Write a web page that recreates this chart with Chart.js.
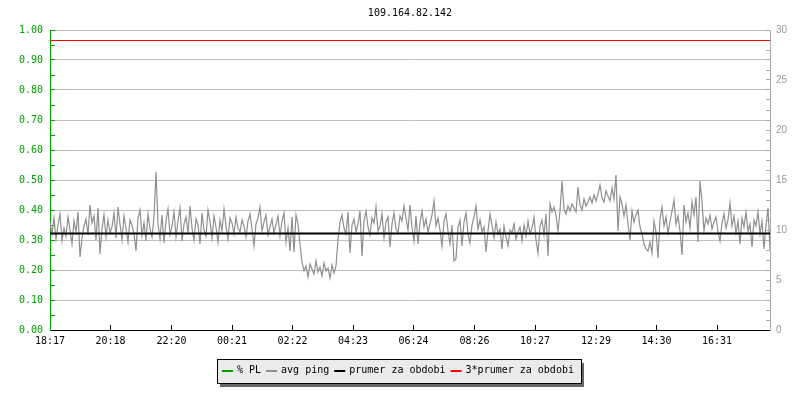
<!DOCTYPE html>
<html>
<head>
<meta charset="utf-8">
<script src="https://cdn.jsdelivr.net/npm/chart.js@4.4.1/dist/chart.umd.min.js"></script>
<style>
  body { margin: 0; background: #fff; }
  canvas { display: block; }
</style>
</head>
<body>
<canvas id="graf" width="800" height="400"></canvas>
<script>
const titulek = '109.164.82.142';
const nazvyRad = ['% PL', 'avg ping', 'prumer za obdobi', '3*prumer za obdobi'];
const casoveStitky = ['18:17', '20:18', '22:20', '00:21', '02:22', '04:23', '06:24', '08:26', '10:27', '12:29', '14:30', '16:31'];
const krokMinut = 4; // one sample every 4 minutes, 24 h in total
const prumer = 9.65; // ms

// avg ping (ms)
const pingHodnoty = [
  10.8, 9.6, 11.2, 9.1, 10.5, 11.6, 8.9, 10.2, 9.4, 11.3, 10.0, 8.6, 10.9, 9.8, 11.8, 7.3, 9.2, 10.4, 11.1, 9.5, 12.5, 10.7, 11.4, 9.0, 12.2, 7.6, 10.1, 11.5, 9.3, 11.0, 9.7,
  10.3, 11.7, 9.2, 12.3, 10.6, 9.0, 11.4, 10.2, 8.8, 11.0, 10.5, 9.6, 7.9, 11.2, 12.0, 9.4, 10.7, 8.9, 11.6, 10.1, 9.3, 11.3, 15.8, 10.6, 9.1, 11.5, 8.7, 10.9, 12.1, 9.5,
  10.4, 11.8, 9.3, 10.9, 12.2, 8.9, 10.6, 11.3, 9.7, 12.4, 10.2, 9.0, 11.1, 10.5, 8.6, 11.7, 10.0, 9.4, 12.0, 10.8, 9.2, 11.4, 10.3, 8.8, 11.0, 9.9, 12.1, 10.4, 9.1, 11.2,
  10.7, 9.6, 11.3, 10.2, 9.8, 11.0, 10.4, 9.3, 10.9, 11.6, 10.1, 8.4, 10.6, 11.2, 12.3, 9.9, 10.8, 11.5, 9.5, 10.3, 11.1, 9.7, 10.5, 11.4, 9.4, 10.9, 11.7, 8.8, 10.2, 7.9, 11.3, 7.8, 11.5, 10.6, 8.6,
  6.8, 5.9, 6.4, 5.3, 6.6, 6.1, 5.6, 6.9, 5.8, 6.3, 5.4, 6.7, 5.9, 6.2, 5.2, 6.5, 5.7, 6.4,
  9.0, 10.8, 11.5, 10.2, 9.6, 11.8, 7.7, 10.5, 11.1, 9.8, 10.6, 11.9, 7.4, 10.9, 11.9, 10.3, 9.5, 11.2, 10.7, 12.3, 9.9, 10.4, 11.6, 9.2, 10.8, 11.3, 8.3, 10.6, 11.7, 10.1, 9.7, 11.4, 10.9, 12.4, 11.2, 10.0, 12.5,
  10.2, 8.9, 11.4, 8.6, 10.7, 11.9, 10.3, 11.1, 9.8, 10.6, 11.5, 12.9, 10.4, 11.2, 10.0, 8.4, 10.9, 11.6, 9.9, 8.6, 10.5, 6.9, 7.1, 10.3, 11.0, 8.4, 10.8, 11.7, 9.6, 8.7, 10.5, 11.3, 12.4, 10.1, 11.0, 9.8,
  10.3, 7.8, 9.9, 11.6, 10.5, 9.2, 10.8, 9.6, 10.1, 8.1, 10.4, 9.3, 8.4, 10.0, 9.7, 10.6, 9.1, 9.8, 10.3, 8.9, 10.5, 9.4, 10.9, 9.6, 10.2, 11.3, 9.0, 7.7, 10.4, 11.0, 9.5, 11.6, 7.4,
  12.6, 11.8, 12.3, 11.5, 9.9, 11.9, 14.9, 12.1, 11.6, 12.4, 11.9, 12.6, 12.2, 11.8, 14.3, 12.5, 12.0, 13.1, 12.4, 12.8, 13.3, 12.7, 13.5, 12.9, 13.6, 14.5, 13.2, 12.8, 13.9, 13.4, 12.9, 14.2, 13.1, 15.5, 9.9, 13.3, 12.6,
  11.4, 12.5, 10.6, 9.0, 11.9, 10.8, 11.5, 12.0, 10.3, 9.6, 8.6, 8.1, 7.9, 8.8, 7.7, 10.9, 9.8, 7.2, 11.1, 12.3, 10.4, 11.3, 9.7, 10.8, 11.9, 13.0, 10.6, 11.4, 9.9, 7.5, 12.5, 10.8, 11.7, 10.2, 12.8, 11.5, 13.3, 8.8, 14.9,
  12.8, 9.9, 11.2, 10.6, 11.5, 10.1, 10.8, 11.3, 9.8, 8.9, 10.7, 11.6, 10.2, 11.0, 12.7, 10.4, 11.4, 9.7, 10.9, 8.6, 11.2, 10.3, 11.8, 9.9, 10.6, 8.3, 11.0, 10.4, 11.8, 9.6, 10.9, 8.1, 10.5, 12.2, 8.0
];
// packet loss (fraction), none in this period
const plHodnoty = pingHodnoty.map(() => 0);

const pismo = '"DejaVu Sans Mono", monospace';
const zelena = '#00a000';

function minutyOdZacatku(stitek) {
  const [h, m] = stitek.split(':').map(Number);
  const [h0, m0] = casoveStitky[0].split(':').map(Number);
  return ((h * 60 + m) - (h0 * 60 + m0) + 1440) % 1440;
}

const body = hodnoty => hodnoty.map((v, i) => ({ x: i * krokMinut, y: v }));
const hlavni = v => Math.round(v * 100) % 10 === 0;

// legend box with shadow, drawn under the plot like rrdtool does it
const legendaBox = {
  id: 'legendaBox',
  afterDraw(chart) {
    const ctx = chart.ctx;
    const sady = chart.data.datasets;
    ctx.save();
    ctx.font = '10px ' + pismo;
    const znacka = 11, mezeraZnacka = 4, mezeraPolozka = 5, padL = 5, padR = 7;
    const sirky = sady.map(d => ctx.measureText(d.label).width);
    let sirka = padL + padR;
    sirky.forEach((s, i) => { sirka += znacka + mezeraZnacka + s + (i < sady.length - 1 ? mezeraPolozka : 0); });
    sirka = Math.round(sirka);
    const vyska = 24;
    const left = Math.round(chart.width / 2 - sirka / 2) - 1;
    const top = chart.chartArea.bottom + 29;

    ctx.fillStyle = '#666';
    ctx.fillRect(left + 3, top + 4, sirka, vyska);
    ctx.fillStyle = '#ebebeb';
    ctx.fillRect(left, top, sirka, vyska);
    ctx.strokeStyle = '#000';
    ctx.lineWidth = 1;
    ctx.strokeRect(left + 0.5, top + 0.5, sirka, vyska);

    const cy = top + 12;
    let x = left + padL;
    ctx.textBaseline = 'middle';
    ctx.textAlign = 'left';
    sady.forEach((d, i) => {
      ctx.fillStyle = d.borderColor;
      ctx.fillRect(x, cy - 1, znacka, 2);
      x += znacka + mezeraZnacka;
      ctx.fillStyle = '#000';
      ctx.fillText(d.label, x, cy - 0.5);
      x += sirky[i] + mezeraPolozka;
    });
    ctx.restore();
  }
};

Chart.defaults.font.family = pismo;
Chart.defaults.font.size = 10;

new Chart(document.getElementById('graf').getContext('2d'), {
  type: 'line',
  data: {
    datasets: [
      {
        label: nazvyRad[0],
        data: body(plHodnoty),
        yAxisID: 'yPL',
        borderColor: zelena,
        borderWidth: 1,
        hidden: true
      },
      {
        label: nazvyRad[1],
        data: body(pingHodnoty),
        yAxisID: 'yPing',
        borderColor: '#8f8f8f',
        borderWidth: 1.2,
        order: 1
      },
      {
        label: nazvyRad[2],
        data: body(pingHodnoty.map(() => prumer)),
        yAxisID: 'yPing',
        borderColor: '#000000',
        borderWidth: 2
      },
      {
        label: nazvyRad[3],
        data: body(pingHodnoty.map(() => 3 * prumer)),
        yAxisID: 'yPing',
        borderColor: '#ff0000',
        borderWidth: 1
      }
    ]
  },
  options: {
    responsive: false,
    animation: false,
    devicePixelRatio: 1,
    events: [],
    elements: {
      point: { radius: 0 },
      line: { tension: 0 }
    },
    layout: { padding: 0 },
    plugins: {
      legend: { display: false },
      tooltip: { enabled: false },
      title: {
        display: true,
        text: titulek,
        fullSize: false,
        color: '#000',
        font: { family: pismo, size: 10, weight: 'normal' },
        padding: { top: 7, bottom: 11 }
      }
    },
    scales: {
      x: {
        type: 'linear',
        min: 0,
        max: 1440,
        afterBuildTicks: s => { s.ticks = casoveStitky.map(t => ({ value: minutyOdZacatku(t) })); },
        afterFit: s => { s.height = 70; },
        ticks: {
          autoSkip: false,
          maxRotation: 0,
          padding: 10,
          color: '#000',
          callback: (v, i) => casoveStitky[i]
        },
        grid: {
          drawOnChartArea: false,
          drawTicks: true,
          tickLength: -5,
          tickColor: ctx => ctx.index === 0 ? 'rgba(0,0,0,0)' : '#000'
        },
        border: { color: '#000', width: 1 }
      },
      yPL: {
        position: 'left',
        min: 0,
        max: 1,
        afterFit: s => { s.width = 50; },
        ticks: {
          stepSize: 0.05,
          autoSkip: false,
          padding: 12,
          color: zelena,
          callback: v => hlavni(v) ? v.toFixed(2) : ''
        },
        grid: {
          color: ctx => hlavni(ctx.tick.value) ? '#c0c0c0' : 'rgba(0,0,0,0)',
          tickColor: zelena,
          tickLength: -5
        },
        border: { color: zelena, width: 1 }
      },
      yPing: {
        position: 'right',
        min: 0,
        max: 30,
        afterFit: s => { s.width = 30; },
        ticks: {
          stepSize: 1,
          autoSkip: false,
          padding: 10,
          color: '#999',
          font: { family: '"Liberation Sans", sans-serif', size: 10 },
          callback: v => v % 5 === 0 ? v : ''
        },
        grid: {
          drawOnChartArea: false,
          tickColor: '#aaa',
          tickLength: -4
        },
        border: { color: '#aaa', width: 1 }
      }
    }
  },
  plugins: [legendaBox]
});
</script>
</body>
</html>
